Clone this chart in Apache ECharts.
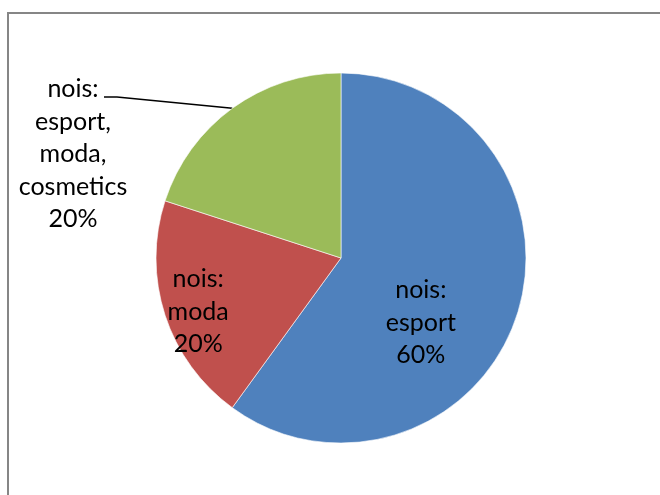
<!DOCTYPE html>
<html>
<head>
<meta charset="utf-8">
<script src="https://cdn.jsdelivr.net/npm/echarts@6/dist/echarts.min.js"></script>
<style>
  html, body { margin: 0; padding: 0; background: #fff; }
  #chart { width: 660px; height: 495px; }
</style>
</head>
<body>
<div id="chart"></div>
<script>
// Interest groups and their shares
const categories = ['nois:\nesport', 'nois:\nmoda', 'nois:\nesport,\nmoda,\ncosmetics'];
const shares = [60, 20, 20];
const sliceColors = ['#4F81BD', '#C0504D', '#9BBB59'];

const chart = echarts.init(document.getElementById('chart'), null, { renderer: 'canvas' });

const data = categories.map((name, i) => {
  const item = { name: name, value: shares[i], itemStyle: { color: sliceColors[i] } };
  if (i === 2) {
    item.label = { position: 'outside' };
    item.labelLine = { show: true };
  } else {
    item.label = { position: 'inside' };
    item.labelLine = { show: false };
  }
  return item;
});

chart.setOption({
  animation: false,
  backgroundColor: '#ffffff',
  graphic: [{
    type: 'rect',
    shape: { x: 8, y: 13, width: 720, height: 560 },
    style: { fill: 'none', stroke: '#868686', lineWidth: 2 },
    silent: true
  }],
  series: [{
    type: 'pie',
    center: [341, 258],
    radius: 185,
    startAngle: 90,
    clockwise: true,
    avoidLabelOverlap: false,
    itemStyle: { borderColor: '#ffffff', borderWidth: 0.6 },
    label: {
      formatter: '{b}\n{d}%',
      color: '#000000',
      fontFamily: 'Lato',
      fontSize: 25,
      lineHeight: 32.5,
      align: 'center'
    },
    labelLine: {
      lineStyle: { color: '#000000', width: 1.5 }
    },
    labelLayout: function (params) {
      if (params.dataIndex === 0) return { dx: -11, dy: 35 };
      if (params.dataIndex === 1) return { dx: -52, dy: 24 };
      const anchor = params.labelLinePoints ? params.labelLinePoints[0] : [232, 108];
      return {
        x: 73,
        y: 154,
        align: 'center',
        verticalAlign: 'middle',
        labelLinePoints: [anchor, [117, 97], [104, 97]]
      };
    },
    data: data
  }]
});
</script>
</body>
</html>
